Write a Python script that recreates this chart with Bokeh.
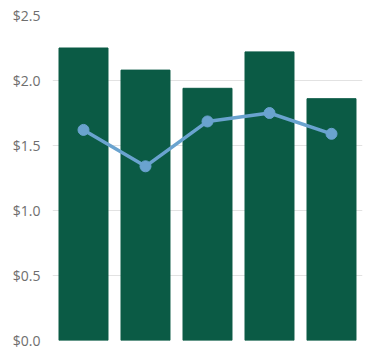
import math
from bokeh.plotting import figure
from bokeh.models import Range1d, Label, NumeralTickFormatter, FixedTicker, ColumnDataSource
from bokeh.embed import file_html
from bokeh.resources import INLINE

positions = [0, 1, 2, 3, 4]
bar_values = [2.25, 2.08, 1.94, 2.22, 1.86]
line_values = [1.62, 1.34, 1.685, 1.75, 1.59]
y_ticks = [0.0, 0.5, 1.0, 1.5, 2.0, 2.5]
axis_title = "Millions"

src = ColumnDataSource(dict(x=positions, bar=bar_values, line=line_values))

p = figure(width=392, height=351, output_backend="svg", toolbar_location=None,
           x_range=Range1d(-0.5, 4.5), y_range=Range1d(0, 2.5),
           min_border_left=52, min_border_right=30, min_border_top=15, min_border_bottom=11)
p.outline_line_color = None
p.background_fill_color = "white"
p.border_fill_color = "white"

p.vbar(x="x", top="bar", width=0.79, bottom=0, source=src, color="#0b5b45")
p.line(x="x", y="line", source=src, line_color="#6aa3cf", line_width=3.5)
p.scatter(x="x", y="line", source=src, size=11, fill_color="#6aa3cf", line_color="#6aa3cf")

p.xaxis.visible = False
p.xgrid.visible = False
p.ygrid.grid_line_color = "#e2e2e2"
p.ygrid.grid_line_width = 1
p.yaxis.ticker = FixedTicker(ticks=y_ticks)
p.yaxis.formatter = NumeralTickFormatter(format="$0.0")
p.yaxis.axis_line_color = None
p.yaxis.major_tick_line_color = None
p.yaxis.minor_tick_line_color = None
p.yaxis.major_tick_out = 0
p.yaxis.major_tick_in = 0
p.yaxis.minor_tick_out = 0
p.yaxis.major_label_text_font = "Open Sans"
p.yaxis.major_label_text_font_size = "14px"
p.yaxis.major_label_text_color = "#6e6e6e"
p.yaxis.major_label_standoff = 12

lbl = Label(x=-47, y=2.3, x_units="screen", y_units="data", text=axis_title, angle=math.pi / 2,
            text_font="Open Sans", text_font_size="14px", text_color="#6e6e6e",
            text_align="center", text_baseline="bottom")
p.add_layout(lbl)

open("out.html", "w").write(file_html(p, INLINE))
